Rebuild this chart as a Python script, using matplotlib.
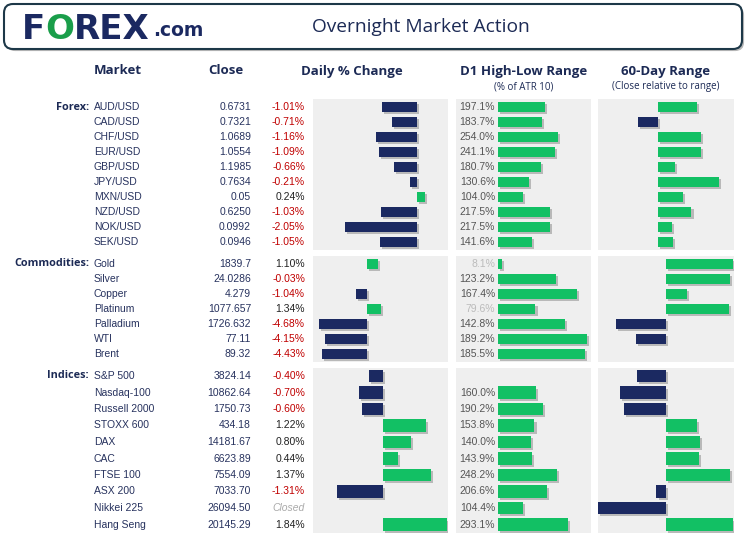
import matplotlib
matplotlib.use("Agg")
import matplotlib.pyplot as plt
import matplotlib.patheffects as pe
from matplotlib.patches import FancyBboxPatch

W, H = 749, 533

NAVY = "#1b2961"
GREEN = "#12c064"
TXT = "#27325e"
RED = "#c00000"
PANEL = "#efefef"

# ---- data ----
forex_names = ["AUD/USD", "CAD/USD", "CHF/USD", "EUR/USD", "GBP/USD",
               "JPY/USD", "MXN/USD", "NZD/USD", "NOK/USD", "SEK/USD"]
forex_close = ["0.6731", "0.7321", "1.0689", "1.0554", "1.1985",
               "0.7634", "0.05", "0.6250", "0.0992", "0.0946"]
forex_chg = [-1.01, -0.71, -1.16, -1.09, -0.66, -0.21, 0.24, -1.03, -2.05, -1.05]
forex_d1 = [197.1, 183.7, 254.0, 241.1, 180.7, 130.6, 104.0, 217.5, 217.5, 141.6]
forex_60d = [51, -26, 57, 56, 22, 80, 33, 44, 18, 20]

comm_names = ["Gold", "Silver", "Copper", "Platinum", "Palladium", "WTI", "Brent"]
comm_close = ["1839.7", "24.0286", "4.279", "1077.657", "1726.632", "77.11", "89.32"]
comm_chg = [1.10, -0.03, -1.04, 1.34, -4.68, -4.15, -4.43]
comm_d1 = [8.1, 123.2, 167.4, 79.6, 142.8, 189.2, 185.5]
comm_60d = [98, 94, 31, 92, -74, -44, 0]

idx_names = ["S&P 500", "Nasdaq-100", "Russell 2000", "STOXX 600", "DAX",
             "CAC", "FTSE 100", "ASX 200", "Nikkei 225", "Hang Seng"]
idx_close = ["3824.14", "10862.64", "1750.73", "434.18", "14181.67",
             "6623.89", "7554.09", "7033.70", "26094.50", "20145.29"]
idx_chg = [-0.40, -0.70, -0.60, 1.22, 0.80, 0.44, 1.37, -1.31, None, 1.84]
idx_d1 = [None, 160.0, 190.2, 153.8, 140.0, 143.9, 248.2, 206.6, 104.4, 293.1]
idx_60d = [-43, -68, -62, 46, 50, 49, 94, -14, -100, 98]

sections = [
    dict(label="Forex:", names=forex_names, close=forex_close, chg=forex_chg,
         d1=forex_d1, r60=forex_60d, top=99, bot=250, y0=107, dy=15, bh=0.67,
         lim_chg=(-2.97, 0.886), lim_d1=(-177, 392), lim_60=(-79, 100)),
    dict(label="Commodities:", names=comm_names, close=comm_close, chg=comm_chg,
         d1=comm_d1, r60=comm_60d, top=256, bot=362, y0=264, dy=15, bh=0.67,
         lim_chg=(-5.29, 7.94), lim_d1=(-89.6, 198), lim_60=(-100, 100)),
    dict(label="Indices:", names=idx_names, close=idx_close, chg=idx_chg,
         d1=idx_d1, r60=idx_60d, top=368, bot=533, y0=376, dy=16.5, bh=0.73,
         lim_chg=(-2.0, 1.857), lim_d1=(-177, 392), lim_60=(-100, 100)),
]

fig = plt.figure(figsize=(W / 100, H / 100), dpi=100)
fig.patch.set_facecolor("white")

shadow = [pe.SimplePatchShadow(offset=(1.5, -1.5), shadow_rgbFace="#555555", alpha=0.35),
          pe.Normal()]


def panel_axes(x0, x1, top, bot):
    a = fig.add_axes([x0 / W, 1 - bot / H, (x1 - x0) / W, (bot - top) / H])
    a.set_facecolor(PANEL)
    for s in a.spines.values():
        s.set_visible(False)
    a.set_xticks([])
    a.set_yticks([])
    return a


def draw_bars(a, vals, sec, xlim):
    n = len(vals)
    a.set_xlim(*xlim)
    a.set_ylim(n - 1 + (sec["bot"] - (sec["y0"] + (n - 1) * sec["dy"])) / sec["dy"],
               -(sec["y0"] - sec["top"]) / sec["dy"])
    for i, v in enumerate(vals):
        if v is None or v == 0:
            continue
        col = GREEN if v > 0 else NAVY
        b = a.barh(i, v, height=sec["bh"], color=col, linewidth=0)
        for p in b.patches:
            p.set_path_effects(shadow)


for sec in sections:
    a1 = panel_axes(313, 448, sec["top"], sec["bot"])
    draw_bars(a1, sec["chg"], sec, sec["lim_chg"])
    a2 = panel_axes(456, 591, sec["top"], sec["bot"])
    draw_bars(a2, sec["d1"], sec, sec["lim_d1"])
    a3 = panel_axes(598, 734, sec["top"], sec["bot"])
    draw_bars(a3, sec["r60"], sec, sec["lim_60"])

# overlay for text
ax = fig.add_axes([0, 0, 1, 1], zorder=5)
ax.set_xlim(0, W)
ax.set_ylim(H, 0)
ax.axis("off")

# header box
box = FancyBboxPatch((4, 4), 738, 45, boxstyle="round,pad=0,rounding_size=9",
                     facecolor="white", edgecolor="#1d3848", linewidth=1.5,
                     path_effects=[pe.SimplePatchShadow(offset=(1.5, -1.5), alpha=0.4), pe.Normal()])
ax.add_patch(box)

# logo, pieces chained one after the other
logo_font = dict(family="DejaVu Sans", fontweight="bold", fontsize=24.5, va="bottom")
t = ax.text(22, 46, "F", color=NAVY, **logo_font)
t = ax.annotate("O", xy=(1, 0), xycoords=t, color="#1a9e4a", **logo_font)
t = ax.annotate("REX", xy=(1, 0), xycoords=t, color=NAVY, **logo_font)
ax.annotate(".com", xy=(1, 0), xycoords=t, xytext=(2, 4), textcoords="offset points",
            color=NAVY, family="DejaVu Sans", fontweight="bold", fontsize=13.5,
            va="bottom")

ax.text(421, 27, "Overnight Market Action", color="#1c2a55", family="Open Sans",
        fontsize=13.8, ha="center", va="center")

hdr = dict(family="Open Sans", fontweight="bold", fontsize=9.5, color="#1c2a55",
           ha="center", va="center")
ax.text(118, 71, "Market", **hdr)
ax.text(226, 71, "Close", **hdr)
ax.text(352, 71, "Daily % Change", **hdr)
ax.text(524, 71, "D1 High-Low Range", **hdr)
ax.text(666, 71, "60-Day Range", **hdr)
sub = dict(family="Open Sans", fontsize=7, color="#1c2a55", ha="center", va="center")
ax.text(524, 87, "(% of ATR 10)", **sub)
ax.text(666, 87, "(Close relative to range)", **sub)

row = dict(family="Liberation Sans", fontsize=7.5, va="center")
for sec in sections:
    ax.text(89, sec["y0"], sec["label"], family="Open Sans", fontweight="bold",
            fontsize=7.8, color="#1c2a55", ha="right", va="center")
    for i, name in enumerate(sec["names"]):
        y = sec["y0"] + i * sec["dy"]
        ax.text(94, y, name, color=TXT, ha="left", **row)
        ax.text(251, y, sec["close"][i], color=TXT, ha="right", **row)
        c = sec["chg"][i]
        if c is None:
            ax.text(305, y, "Closed", color="#aaaaaa", style="italic", ha="right", **row)
        else:
            ax.text(305, y, f"{c:.2f}%", color=RED if c < 0 else "#222222",
                    ha="right", **row)
        d = sec["d1"][i]
        if d is not None:
            ax.text(495, y, f"{d:.1f}%", color="#bbbbbb" if d < 100 else "#555555",
                    ha="right", **row)

fig.savefig("out.png", dpi=100)
